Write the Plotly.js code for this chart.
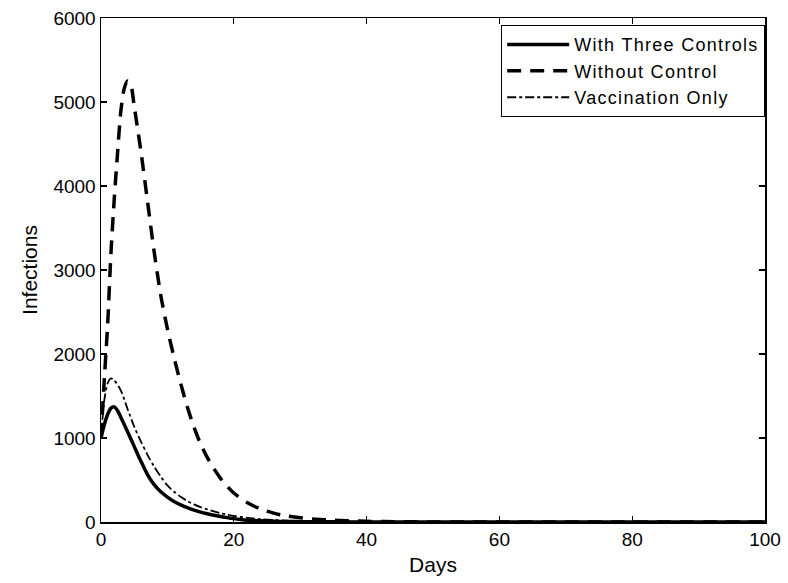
<!DOCTYPE html>
<html>
<head>
<meta charset="utf-8">
<script src="https://cdn.plot.ly/plotly-3.0.1.min.js"></script>
<style>html,body{margin:0;padding:0;background:#fff;}#chart{width:788px;height:583px;}
.legendtext{letter-spacing:1.3px;}</style>
</head>
<body>
<div id="chart"></div>
<script>
// Days (x) and Infections (y)
var daysNoControl = [0, 0.5, 1, 1.5, 2, 2.5, 3, 3.5, 4, 4.5, 5, 6, 7, 8, 9, 10, 11, 12, 13, 14, 15, 16, 17, 18, 19, 20, 22, 24, 26, 28, 30, 33, 36, 40, 45, 50, 60, 80, 100];
var infNoControl  = [1000, 1700, 2350, 3200, 3850, 4400, 4900, 5160, 5250, 5200, 4950, 4420, 3820, 3220, 2700, 2300, 1960, 1650, 1370, 1130, 930, 770, 635, 520, 425, 345, 232, 155, 105, 72, 50, 30, 18, 8, 3, 1, 0, 0, 0];

var daysThree = [0, 0.5, 1, 1.5, 2, 2.5, 3, 4, 5, 6, 7, 8, 9, 10, 11, 12, 13, 14, 15, 16, 17, 18, 19, 20, 21, 22, 24, 26, 28, 30, 35, 40, 50, 60, 80, 100];
var infThree  = [1000, 1160, 1280, 1355, 1370, 1325, 1245, 1075, 900, 725, 565, 445, 360, 297, 245, 203, 170, 142, 118, 98, 81, 66, 52, 40, 30, 22, 14, 9, 6, 4, 2, 1, 0, 0, 0, 0];

var daysVacc = [0, 0.5, 1, 1.5, 2, 3, 4, 5, 6, 7, 8, 9, 10, 11, 12, 13, 14, 15, 16, 17, 18, 19, 20, 22, 24, 26, 28, 30, 35, 40, 50, 60, 80, 100];
var infVacc  = [1000, 1450, 1650, 1710, 1685, 1565, 1345, 1135, 960, 800, 660, 540, 435, 360, 300, 250, 210, 177, 150, 126, 105, 88, 72, 50, 35, 24, 16, 11, 5, 2, 0, 0, 0, 0];

var seriesNames = ["With Three Controls", "Without Control", "Vaccination Only"];
var xTicks = [0, 20, 40, 60, 80, 100];
var yTicks = [0, 1000, 2000, 3000, 4000, 5000, 6000];

var FONT = "Liberation Sans, Arial, Helvetica, sans-serif";

var traces = [
  {x: daysThree, y: infThree, name: seriesNames[0], mode: "lines",
   line: {color: "#000", width: 3.5, dash: "solid", shape: "spline", smoothing: 0.8}},
  {x: daysNoControl, y: infNoControl, name: seriesNames[1], mode: "lines",
   line: {color: "#000", width: 3.5, dash: "14px,9px", shape: "spline", smoothing: 0.8}},
  {x: daysVacc, y: infVacc, name: seriesNames[2], mode: "lines",
   line: {color: "#000", width: 1.8, dash: "dashdot", shape: "spline", smoothing: 0.8}}
];

var axisCommon = {
  showline: true, linecolor: "#000", linewidth: 1.5, mirror: "ticks",
  ticks: "inside", ticklen: 6, tickwidth: 1.2, tickcolor: "#000",
  showgrid: false, zeroline: false,
  tickfont: {family: FONT, size: 19, color: "#000"}
};

var layout = {
  width: 788, height: 583,
  margin: {l: 101, r: 23, t: 18, b: 61},
  paper_bgcolor: "#fff", plot_bgcolor: "#fff",
  font: {family: FONT, color: "#000"},
  showlegend: true,
  legend: {x: 1, xanchor: "right", y: 0.986, yanchor: "top",
           bordercolor: "#000", borderwidth: 1.2, bgcolor: "#fff",
           font: {family: FONT, size: 18, color: "#000"},
           itemwidth: 62, tracegroupgap: 0},
  xaxis: Object.assign({}, axisCommon, {
    range: [0, 100], tickvals: xTicks, ticktext: xTicks.map(String),
    title: {text: "Days", font: {family: FONT, size: 21, color: "#000"}, standoff: 8}
  }),
  yaxis: Object.assign({}, axisCommon, {
    range: [0, 6000], tickvals: yTicks, ticktext: yTicks.map(String),
    title: {text: "Infections", font: {family: FONT, size: 21, color: "#000"}, standoff: 10}
  })
};

Plotly.newPlot("chart", traces, layout, {staticPlot: true, displayModeBar: false});
</script>
</body>
</html>
